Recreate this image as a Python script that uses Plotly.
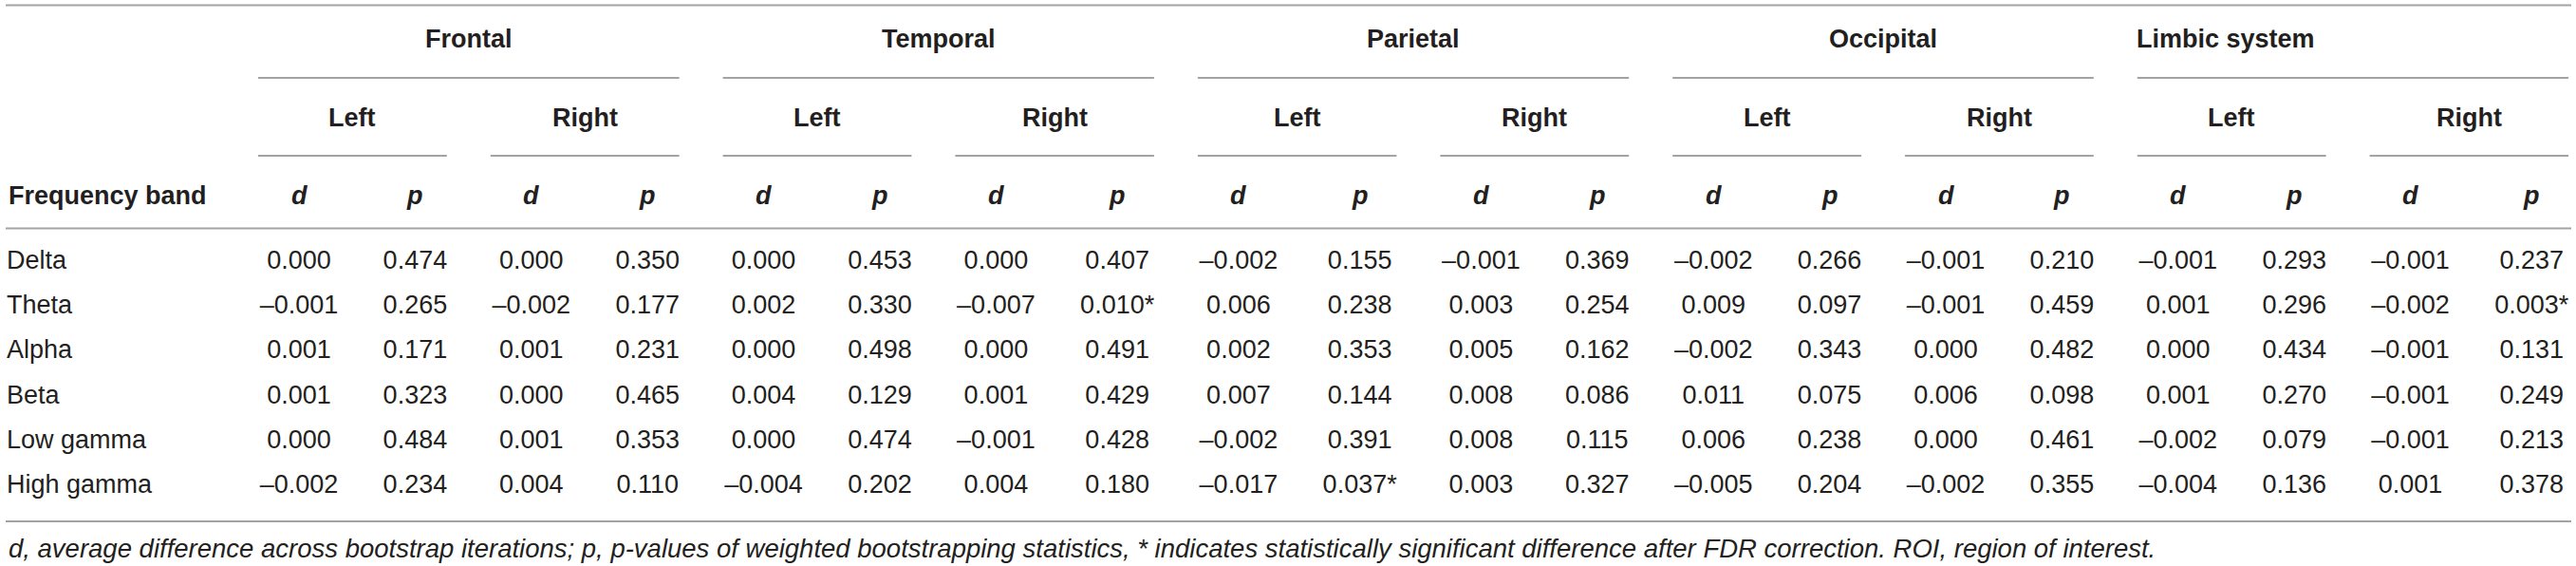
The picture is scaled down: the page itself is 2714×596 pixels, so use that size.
import plotly.graph_objects as go

# ---------------- data ----------------
bands = ["Delta", "Theta", "Alpha", "Beta", "Low gamma", "High gamma"]
regions = ["Frontal", "Temporal", "Parietal", "Occipital", "Limbic system"]
sides = ["Left", "Right"]
stat_labels = ["d", "p"]
first_col_label = "Frequency band"

d_frontal_left = [0.000, -0.001, 0.001, 0.001, 0.000, -0.002]
p_frontal_left = [0.474, 0.265, 0.171, 0.323, 0.484, 0.234]
d_frontal_right = [0.000, -0.002, 0.001, 0.000, 0.001, 0.004]
p_frontal_right = [0.350, 0.177, 0.231, 0.465, 0.353, 0.110]
d_temporal_left = [0.000, 0.002, 0.000, 0.004, 0.000, -0.004]
p_temporal_left = [0.453, 0.330, 0.498, 0.129, 0.474, 0.202]
d_temporal_right = [0.000, -0.007, 0.000, 0.001, -0.001, 0.004]
p_temporal_right = [0.407, 0.010, 0.491, 0.429, 0.428, 0.180]
d_parietal_left = [-0.002, 0.006, 0.002, 0.007, -0.002, -0.017]
p_parietal_left = [0.155, 0.238, 0.353, 0.144, 0.391, 0.037]
d_parietal_right = [-0.001, 0.003, 0.005, 0.008, 0.008, 0.003]
p_parietal_right = [0.369, 0.254, 0.162, 0.086, 0.115, 0.327]
d_occipital_left = [-0.002, 0.009, -0.002, 0.011, 0.006, -0.005]
p_occipital_left = [0.266, 0.097, 0.343, 0.075, 0.238, 0.204]
d_occipital_right = [-0.001, -0.001, 0.000, 0.006, 0.000, -0.002]
p_occipital_right = [0.210, 0.459, 0.482, 0.098, 0.461, 0.355]
d_limbic_left = [-0.001, 0.001, 0.000, 0.001, -0.002, -0.004]
p_limbic_left = [0.293, 0.296, 0.434, 0.270, 0.079, 0.136]
d_limbic_right = [-0.001, -0.002, -0.001, -0.001, -0.001, 0.001]
p_limbic_right = [0.237, 0.003, 0.131, 0.249, 0.213, 0.378]

# significant after FDR correction: (region, side) -> bands
significant = {
    ("Temporal", "Right"): ["Theta"],
    ("Parietal", "Left"): ["High gamma"],
    ("Limbic system", "Right"): ["Theta"],
}

footnote = ("d, average difference across bootstrap iterations; p, p-values of weighted "
            "bootstrapping statistics, * indicates statistically significant difference "
            "after FDR correction. ROI, region of interest.")

columns = [
    ("Frontal", "Left", d_frontal_left, p_frontal_left),
    ("Frontal", "Right", d_frontal_right, p_frontal_right),
    ("Temporal", "Left", d_temporal_left, p_temporal_left),
    ("Temporal", "Right", d_temporal_right, p_temporal_right),
    ("Parietal", "Left", d_parietal_left, p_parietal_left),
    ("Parietal", "Right", d_parietal_right, p_parietal_right),
    ("Occipital", "Left", d_occipital_left, p_occipital_left),
    ("Occipital", "Right", d_occipital_right, p_occipital_right),
    ("Limbic system", "Left", d_limbic_left, p_limbic_left),
    ("Limbic system", "Right", d_limbic_right, p_limbic_right),
]

# ---------------- layout (pixel units) ----------------
W, H = 2714, 596
TABLE_LEFT, TABLE_RIGHT = 6, 2709
FIRST_COL_RIGHT = 249
D_W, P_W, P_W_WIDE = 132, 112.8, 123.5
INSET = 23
Y_TOP_RULE = 5.5
Y_REGION = 41
Y_REGION_RULE = 82
Y_SIDE = 123.5
Y_SIDE_RULE = 164
Y_STAT = 205.5
Y_HEAD_RULE = 240.5
Y_ROW0 = 276
ROW_STEP = 47.3
Y_BOTTOM_RULE = 549
Y_FOOT = 577

FONT = "Arial, Liberation Sans, Helvetica, sans-serif"
FS = 27
FS_FOOT = 27.5
TXT = "#231f20"
RULE = "#a3a3a3"


def fmt(v):
    s = f"{v:.3f}"
    return s.replace("-", "\u2013")


# column geometry
sub_spans = []  # (left, right) of each region/side subgroup
d_centers, p_centers = [], []
x = FIRST_COL_RIGHT
for region, side, dv, pv in columns:
    wide = len(significant.get((region, side), [])) > 0
    pw = P_W_WIDE if wide else P_W
    left = x
    d_centers.append(x + D_W / 2)
    x += D_W
    p_centers.append(x + pw / 2)
    x += pw
    sub_spans.append((left, x))

shapes = []
annotations = []


def hline(x0, x1, y):
    shapes.append(dict(type="line", xref="x", yref="y", x0=x0, x1=x1, y0=y, y1=y,
                       line=dict(color=RULE, width=2)))


def text(xp, yp, s, bold=False, italic=False, align="center"):
    t = s
    if bold:
        t = f"<b>{t}</b>"
    if italic:
        t = f"<i>{t}</i>"
    annotations.append(dict(x=xp, y=yp, xref="x", yref="y", text=t, showarrow=False,
                            xanchor=align, yanchor="middle",
                            font=dict(family=FONT, size=FS, color=TXT)))


# full-width rules
hline(TABLE_LEFT, TABLE_RIGHT, Y_TOP_RULE)
hline(TABLE_LEFT, TABLE_RIGHT, Y_HEAD_RULE)
hline(TABLE_LEFT, TABLE_RIGHT, Y_BOTTOM_RULE)

# region headers
for i, region in enumerate(regions):
    l = sub_spans[2 * i][0]
    r = sub_spans[2 * i + 1][1]
    hline(l + INSET, min(r - INSET, TABLE_RIGHT), Y_REGION_RULE)
    if region == "Limbic system":
        text(l + 20, Y_REGION, region, bold=True, align="left")
    else:
        text((l + r) / 2, Y_REGION, region, bold=True)

# side headers
for (region, side, dv, pv), (l, r) in zip(columns, sub_spans):
    hline(l + INSET, min(r - INSET, TABLE_RIGHT), Y_SIDE_RULE)
    text((l + r) / 2, Y_SIDE, side, bold=True)

# stat headers
text(TABLE_LEFT + 1, Y_STAT, first_col_label, bold=True, align="left")
for dc, pc in zip(d_centers, p_centers):
    text(dc, Y_STAT, stat_labels[0], bold=True, italic=True)
    text(pc, Y_STAT, stat_labels[1], bold=True, italic=True)

# body
row_y = [Y_ROW0 + i * ROW_STEP for i in range(len(bands))]
fig = go.Figure()
fig.add_trace(go.Scatter(
    x=[TABLE_LEFT + 1] * len(bands), y=row_y, text=bands, mode="text",
    textposition="middle right",
    textfont=dict(family=FONT, size=FS, color=TXT), hoverinfo="skip", showlegend=False))

xs, ys, ts = [], [], []
for (region, side, dv, pv), dc, pc in zip(columns, d_centers, p_centers):
    sig = significant.get((region, side), [])
    for j, band in enumerate(bands):
        xs.append(dc); ys.append(row_y[j]); ts.append(fmt(dv[j]))
        xs.append(pc); ys.append(row_y[j])
        ts.append(fmt(pv[j]) + ("*" if band in sig else ""))
fig.add_trace(go.Scatter(
    x=xs, y=ys, text=ts, mode="text", textposition="middle center",
    textfont=dict(family=FONT, size=FS, color=TXT), hoverinfo="skip", showlegend=False))

annotations.append(dict(x=TABLE_LEFT + 1, y=Y_FOOT, xref="x", yref="y",
                        text=f"<i>{footnote}</i>", showarrow=False,
                        xanchor="left", yanchor="middle",
                        font=dict(family=FONT, size=FS_FOOT, color=TXT)))

fig.update_layout(
    width=W, height=H, autosize=False,
    margin=dict(l=0, r=0, t=0, b=0, pad=0),
    paper_bgcolor="white", plot_bgcolor="white",
    xaxis=dict(range=[0, W], visible=False, fixedrange=True),
    yaxis=dict(range=[H, 0], visible=False, fixedrange=True),
    shapes=shapes, annotations=annotations,
)

fig.write_html(
    "out.html",
    config={"displayModeBar": False},
    post_script="document.body.style.margin='0';document.body.style.overflow='hidden';",
)
